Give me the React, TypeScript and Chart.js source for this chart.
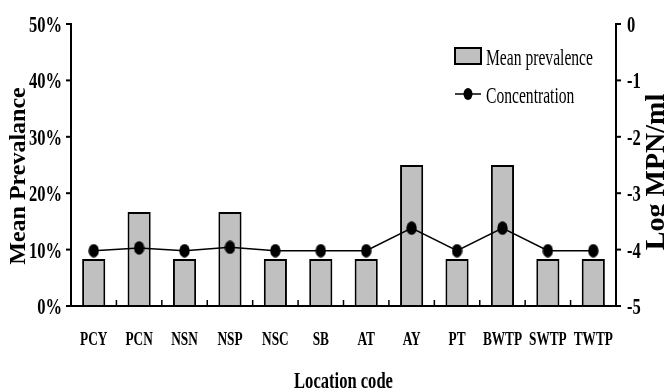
import React, { useEffect, useRef } from 'react';
import { Chart, registerables } from 'chart.js';

Chart.register(...registerables);

const categories = ['PCY', 'PCN', 'NSN', 'NSP', 'NSC', 'SB', 'AT', 'AY', 'PT', 'BWTP', 'SWTP', 'TWTP'];
const meanPrevalence = [8.33, 16.67, 8.33, 16.67, 8.33, 8.33, 8.33, 25, 8.33, 25, 8.33, 8.33];
const concentration = [-4.02, -3.97, -4.02, -3.96, -4.02, -4.02, -4.02, -3.62, -4.02, -3.62, -4.02, -4.02];
const leftTicks = [0, 10, 20, 30, 40, 50];
const rightTicks = [0, -1, -2, -3, -4, -5];
const leftTitle = 'Mean Prevalance';
const rightTitle = 'Log MPN/ml';
const xTitle = 'Location code';
const seriesNames = ['Mean prevalence', 'Concentration'];

const SERIF = '"Liberation Serif", "Times New Roman", serif';

function makeMarker(): HTMLCanvasElement {
  const c = document.createElement('canvas');
  c.width = 11;
  c.height = 14;
  const g = c.getContext('2d')!;
  g.fillStyle = '#000';
  g.beginPath();
  g.ellipse(5.5, 7, 5.2, 6.8, 0, 0, Math.PI * 2);
  g.fill();
  return c;
}

function txt(
  ctx: CanvasRenderingContext2D,
  s: string,
  x: number,
  y: number,
  font: string,
  align: CanvasTextAlign,
  sx: number,
  rot = 0
) {
  ctx.save();
  ctx.translate(x, y);
  if (rot) ctx.rotate(rot);
  ctx.scale(sx, 1);
  ctx.font = font;
  ctx.textAlign = align;
  ctx.textBaseline = 'alphabetic';
  ctx.fillStyle = '#000';
  ctx.fillText(s, 0, 0);
  ctx.restore();
}

const decorPlugin = {
  id: 'decor',
  afterDraw(chart: any) {
    const ctx: CanvasRenderingContext2D = chart.ctx;
    const area = chart.chartArea;
    const xs = chart.scales.x;
    const yl = chart.scales.yL;
    const yr = chart.scales.yR;
    ctx.save();
    ctx.strokeStyle = '#000';
    ctx.lineWidth = 2;
    // axis lines
    ctx.beginPath();
    ctx.moveTo(area.left, yl.getPixelForValue(50) - 1);
    ctx.lineTo(area.left, area.bottom);
    ctx.lineTo(area.right, area.bottom);
    ctx.moveTo(area.right, area.bottom);
    ctx.lineTo(area.right, yr.getPixelForValue(0) - 1);
    ctx.stroke();
    // left ticks
    const tickFont = `bold 23px ${SERIF}`;
    leftTicks.forEach((v) => {
      const y = yl.getPixelForValue(v);
      ctx.beginPath();
      ctx.moveTo(area.left - 5, y);
      ctx.lineTo(area.left, y);
      ctx.stroke();
      txt(ctx, `${v}%`, area.left - 9, y + 8, tickFont, 'right', 0.72);
    });
    // right ticks
    rightTicks.forEach((v) => {
      const y = yr.getPixelForValue(v);
      ctx.beginPath();
      ctx.moveTo(area.right, y);
      ctx.lineTo(area.right + 5, y);
      ctx.stroke();
      txt(ctx, `${v}`, area.right + 11, y + 8, tickFont, 'left', 0.72);
    });
    // x boundary ticks (inside)
    ctx.lineWidth = 1.5;
    for (let i = 0; i <= categories.length; i++) {
      const x = xs.getPixelForValue(i - 0.5);
      ctx.beginPath();
      ctx.moveTo(x, area.bottom);
      ctx.lineTo(x, area.bottom - 6);
      ctx.stroke();
    }
    // x labels
    categories.forEach((c, i) => {
      const x = xs.getPixelForValue(i);
      txt(ctx, c, x, area.bottom + 39, `bold 19px ${SERIF}`, 'center', 0.7);
    });
    // titles
    txt(ctx, xTitle, (area.left + area.right) / 2, area.bottom + 82, `bold 23px ${SERIF}`, 'center', 0.72);
    txt(ctx, leftTitle, 25, 176, `bold 24px ${SERIF}`, 'center', 1, -Math.PI / 2);
    txt(ctx, rightTitle, 664, 172, `bold 28px ${SERIF}`, 'center', 1, -Math.PI / 2);
    // legend
    const lx = area.left + 384;
    ctx.fillStyle = '#c0c0c0';
    ctx.fillRect(lx, 48, 26, 16);
    ctx.lineWidth = 2;
    ctx.strokeRect(lx, 48, 26, 16);
    txt(ctx, seriesNames[0], lx + 31, 65, `24px ${SERIF}`, 'left', 0.65);
    ctx.lineWidth = 1.5;
    ctx.beginPath();
    ctx.moveTo(lx, 94);
    ctx.lineTo(lx + 26, 94);
    ctx.stroke();
    ctx.fillStyle = '#000';
    ctx.beginPath();
    ctx.ellipse(lx + 13, 94, 4.5, 6, 0, 0, Math.PI * 2);
    ctx.fill();
    txt(ctx, seriesNames[1], lx + 31, 103, `24px ${SERIF}`, 'left', 0.65);
    ctx.restore();
  },
};

export default function App() {
  const ref = useRef<HTMLCanvasElement | null>(null);
  useEffect(() => {
    if (!ref.current) return;
    const marker = makeMarker();
    const chart = new Chart(ref.current, {
      type: 'bar',
      data: {
        labels: categories,
        datasets: [
          {
            type: 'line',
            label: seriesNames[1],
            data: concentration,
            yAxisID: 'yR',
            borderColor: '#000',
            borderWidth: 1.5,
            pointStyle: marker as any,
            pointRadius: 5,
            pointBackgroundColor: '#000',
            fill: false,
            tension: 0,
            order: 0,
          } as any,
          {
            type: 'bar',
            label: seriesNames[0],
            data: meanPrevalence,
            yAxisID: 'yL',
            backgroundColor: '#c0c0c0',
            borderColor: '#000',
            borderWidth: 2,
            categoryPercentage: 1,
            barPercentage: 0.51,
            order: 1,
          },
        ],
      },
      options: {
        responsive: false,
        animation: false,
        devicePixelRatio: 1,
        layout: { padding: { left: 71, right: 48, top: 24, bottom: 86 } },
        plugins: { legend: { display: false }, tooltip: { enabled: false }, title: { display: false } },
        scales: {
          x: { type: 'category', display: false, offset: true },
          yL: { type: 'linear', display: false, position: 'left', min: 0, max: 50 },
          yR: { type: 'linear', display: false, position: 'right', min: -5, max: 0 },
        },
      },
      plugins: [decorPlugin],
    });
    return () => chart.destroy();
  }, []);
  return (
    <div style={{ position: 'fixed', left: 0, top: 0, width: 664, height: 392, background: '#fff' }}>
      <canvas ref={ref} width={664} height={392} />
    </div>
  );
}
